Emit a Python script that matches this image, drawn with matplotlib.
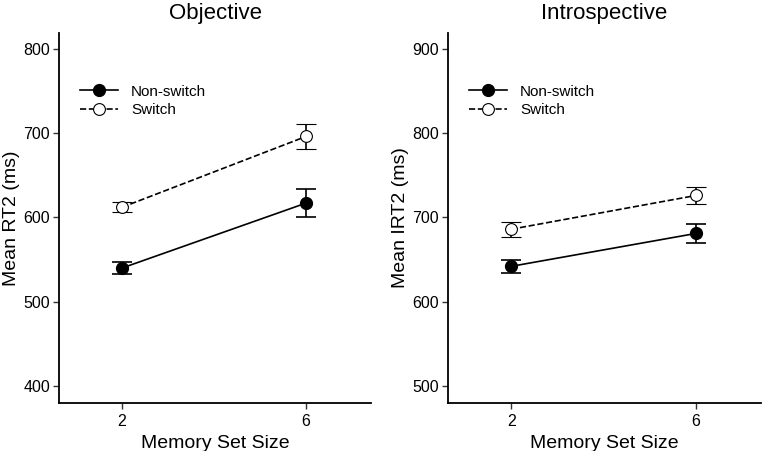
import numpy as np
import matplotlib.pyplot as plt

plt.rcParams['font.family'] = ['Liberation Sans', 'DejaVu Sans']

set_size = [2, 6]

# objective RT2
obj_nonswitch = [540, 617]
obj_nonswitch_err = [7.5, 16.5]
obj_switch = [612, 696]
obj_switch_err = [6, 14.5]

# introspective IRT2
int_nonswitch = [642, 681]
int_nonswitch_err = [7.5, 11]
int_switch = [686, 726]
int_switch_err = [8.7, 10]

fig = plt.figure(figsize=(7.62, 4.51), dpi=100)
W, H = 762, 451
ax1 = fig.add_axes([59 / W, 1 - 403 / H, 312 / W, 370 / H])
ax2 = fig.add_axes([448 / W, 1 - 403 / H, 313 / W, 370 / H])


def panel(ax, ns, ns_err, sw, sw_err, title, ylabel, ylim, yticks):
    ax.errorbar(set_size, ns, yerr=ns_err, color='black', lw=1.2, marker='o',
                ms=8.5, mfc='black', mec='black', capsize=7, elinewidth=1.2,
                capthick=1.2, label='Non-switch', zorder=3)
    ax.errorbar(set_size, sw, yerr=sw_err, color='black', lw=1.2, ls='--',
                marker='o', ms=8.5, mfc='white', mec='black', mew=0.8,
                capsize=7, elinewidth=1.2, capthick=1.2, label='Switch',
                zorder=3)
    ax.set_xlim(0.63, 7.41)
    ax.set_ylim(*ylim)
    ax.set_xticks(set_size)
    ax.set_yticks(yticks)
    for s in ['top', 'right']:
        ax.spines[s].set_visible(False)
    for s in ['left', 'bottom']:
        ax.spines[s].set_linewidth(1.3)
    ax.tick_params(labelsize=11.5, length=4.5, width=1, color='#333333')
    ax.tick_params(axis='y', pad=2)
    ax.set_title(title, fontsize=16, pad=10)
    ax.set_xlabel('Memory Set Size', fontsize=14, labelpad=4)
    ax.set_ylabel(ylabel, fontsize=14, labelpad=2)
    handles, labels = ax.get_legend_handles_labels()
    handles = [h[0] for h in handles]
    ax.legend(handles, labels, loc='upper left', bbox_to_anchor=(0.067, 0.86),
              frameon=False, fontsize=11, handlelength=2.5, borderpad=0,
              borderaxespad=0, handletextpad=0.85, labelspacing=0.3)


panel(ax1, obj_nonswitch, obj_nonswitch_err, obj_switch, obj_switch_err,
      'Objective', 'Mean RT2 (ms)', (380, 818.6), [400, 500, 600, 700, 800])
panel(ax2, int_nonswitch, int_nonswitch_err, int_switch, int_switch_err,
      'Introspective', 'Mean IRT2 (ms)', (480, 918.6), [500, 600, 700, 800, 900])

fig.savefig('out.png', dpi=100)
